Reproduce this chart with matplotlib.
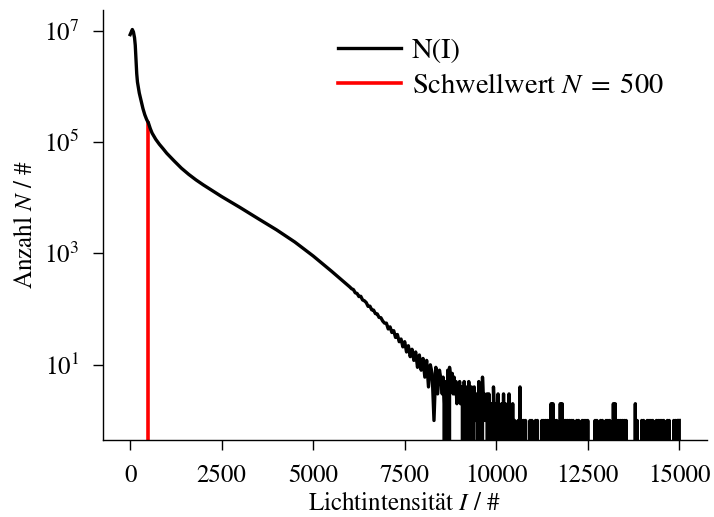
import numpy as np
import matplotlib
matplotlib.use("Agg")
import matplotlib.pyplot as plt
from matplotlib.ticker import FixedLocator, NullLocator

plt.rcParams.update({
    "font.family": "serif",
    "font.serif": ["STIXGeneral", "Liberation Serif", "DejaVu Serif"],
    "mathtext.fontset": "stix",
    "font.size": 18,
})

# Histogram of pixel light intensities: counts N per intensity value I
head_I = [0, 30, 60, 90, 120, 140, 160, 180, 200, 250, 300, 350, 400, 450,
          500, 550, 600, 700, 800, 900, 1000, 1200, 1400, 1600, 1800, 2000,
          2500, 3000, 3500, 4000, 4500, 5000, 5500, 6000]
head_N = [8.5e6, 9.5e6, 1.05e7, 9.5e6, 7.5e6, 5.5e6, 3.0e6, 1.7e6, 1.2e6,
          7.6e5, 5.5e5, 4.0e5, 3.1e5, 2.55e5, 2.2e5, 1.75e5, 1.45e5,
          1.12e5, 9.1e4, 7.6e4, 6.3e4, 4.6e4, 3.4e4, 2.63e4, 2.09e4,
          1.7e4, 1.05e4, 6.7e3, 4.2e3, 2.65e3, 1.6e3, 900, 480, 250]

# noisy decay, 6050 ... 8450 in steps of 50
mid_start, mid_step = 6050, 50
mid_N = [232, 224, 196, 191, 168, 170, 146, 141, 131, 112,
         113, 97, 96, 83, 82, 71, 70, 61, 56, 56,
         44, 48, 38, 41, 31, 35, 26, 29, 21, 26,
         17, 22, 14, 19, 12, 17, 9, 15, 8, 13,
         6, 12, 4, 10, 7, 1, 9, 3, 8]

# sparse tail, 8500 ... 15000 in steps of 25
tail_start, tail_step = 8500, 25
tail_N = [5, 3, 6, 2, 0, 5, 0, 8, 0, 9, 6, 4, 7, 3, 6, 3, 5, 2, 4, 3,
          5, 2, 4, 3, 0, 5, 1, 0, 4, 0, 5, 1, 0, 4, 0, 2, 4, 1, 3, 2,
          0, 5, 0, 2, 0, 6, 2, 3, 1, 2, 3, 0, 3, 1, 0, 2, 0, 4, 1, 0,
          2, 0, 3, 0, 1, 0, 2, 0, 3, 0, 2, 0, 1, 0, 3, 0, 1, 0, 2, 0,
          1, 0, 0, 0, 1, 0, 4, 0, 1, 0, 1, 0, 1, 0, 0, 0, 0, 1, 0, 1,
          0, 0, 0, 1, 0, 1, 0, 0, 0, 0, 1, 0, 1, 0, 1, 0, 1, 0, 1, 0,
          2, 0, 2, 0, 1, 0, 1, 0, 0, 0, 2, 0, 2, 0, 1, 0, 1, 0, 1, 0,
          1, 0, 1, 0, 1, 0, 0, 0, 1, 0, 1, 0, 0, 0, 1, 0, 1, 0, 1, 0,
          1, 0, 0, 0, 0, 0, 0, 0, 1, 0, 1, 0, 0, 0, 1, 0, 1, 0, 0, 0,
          1, 0, 1, 0, 1, 0, 0, 0, 2, 0, 2, 0, 1, 0, 1, 0, 1, 0, 1, 0,
          1, 0, 1, 0, 0, 0, 0, 0, 0, 0, 0, 0, 2, 0, 1, 0, 0, 0, 0, 1,
          0, 1, 0, 0, 0, 1, 0, 1, 0, 1, 0, 1, 0, 0, 0, 1, 0, 1, 0, 1,
          0, 1, 0, 1, 0, 0, 0, 1, 0, 1, 0, 0, 0, 0, 1, 0, 1, 0, 1, 0,
          1]

threshold = 500
y_ticks = [1e1, 1e3, 1e5, 1e7]
x_ticks = [0, 2500, 5000, 7500, 10000, 12500, 15000]

mid_I = mid_start + mid_step * np.arange(len(mid_N))
tail_I = tail_start + tail_step * np.arange(len(tail_N))
I = np.concatenate([head_I, mid_I, tail_I]).astype(float)
N = np.concatenate([head_N, mid_N, tail_N]).astype(float)

fig = plt.figure(figsize=(7.14, 5.17), dpi=100)
ax = fig.add_axes([0.1438, 0.1489, 0.8460, 0.8318])
ax.set_yscale("log")

ax.plot(I, N, color="black", lw=2.4, label="N(I)")
ylo, yhi = ax.get_ylim()
n_thr = N[I == threshold][0]
ax.plot([threshold, threshold], [ylo, n_thr], color="red", lw=2.6,
        label=r"Schwellwert $N\;=\;500$", zorder=1.9)
ax.set_ylim(ylo, yhi)

ax.xaxis.set_major_locator(FixedLocator(x_ticks))
ax.yaxis.set_major_locator(FixedLocator(y_ticks))
ax.yaxis.set_minor_locator(NullLocator())
ax.tick_params(direction="out", length=7, width=1.0, labelsize=18, pad=10)

for side in ("top", "right"):
    ax.spines[side].set_visible(False)
for side in ("left", "bottom"):
    ax.spines[side].set_linewidth(1.0)

ax.set_xlabel(r"Lichtintensität $I$ / #", fontsize=18, labelpad=3)
ax.set_ylabel(r"Anzahl $N$ / #", fontsize=18)

ax.legend(loc="upper left", frameon=False, fontsize=20.5, handlelength=2.2,
          handletextpad=0.4, borderpad=0, borderaxespad=0, labelspacing=0.32,
          bbox_to_anchor=(338 / 714, 1 - 38 / 517),
          bbox_transform=fig.transFigure)

fig.savefig("out.png", dpi=100)
